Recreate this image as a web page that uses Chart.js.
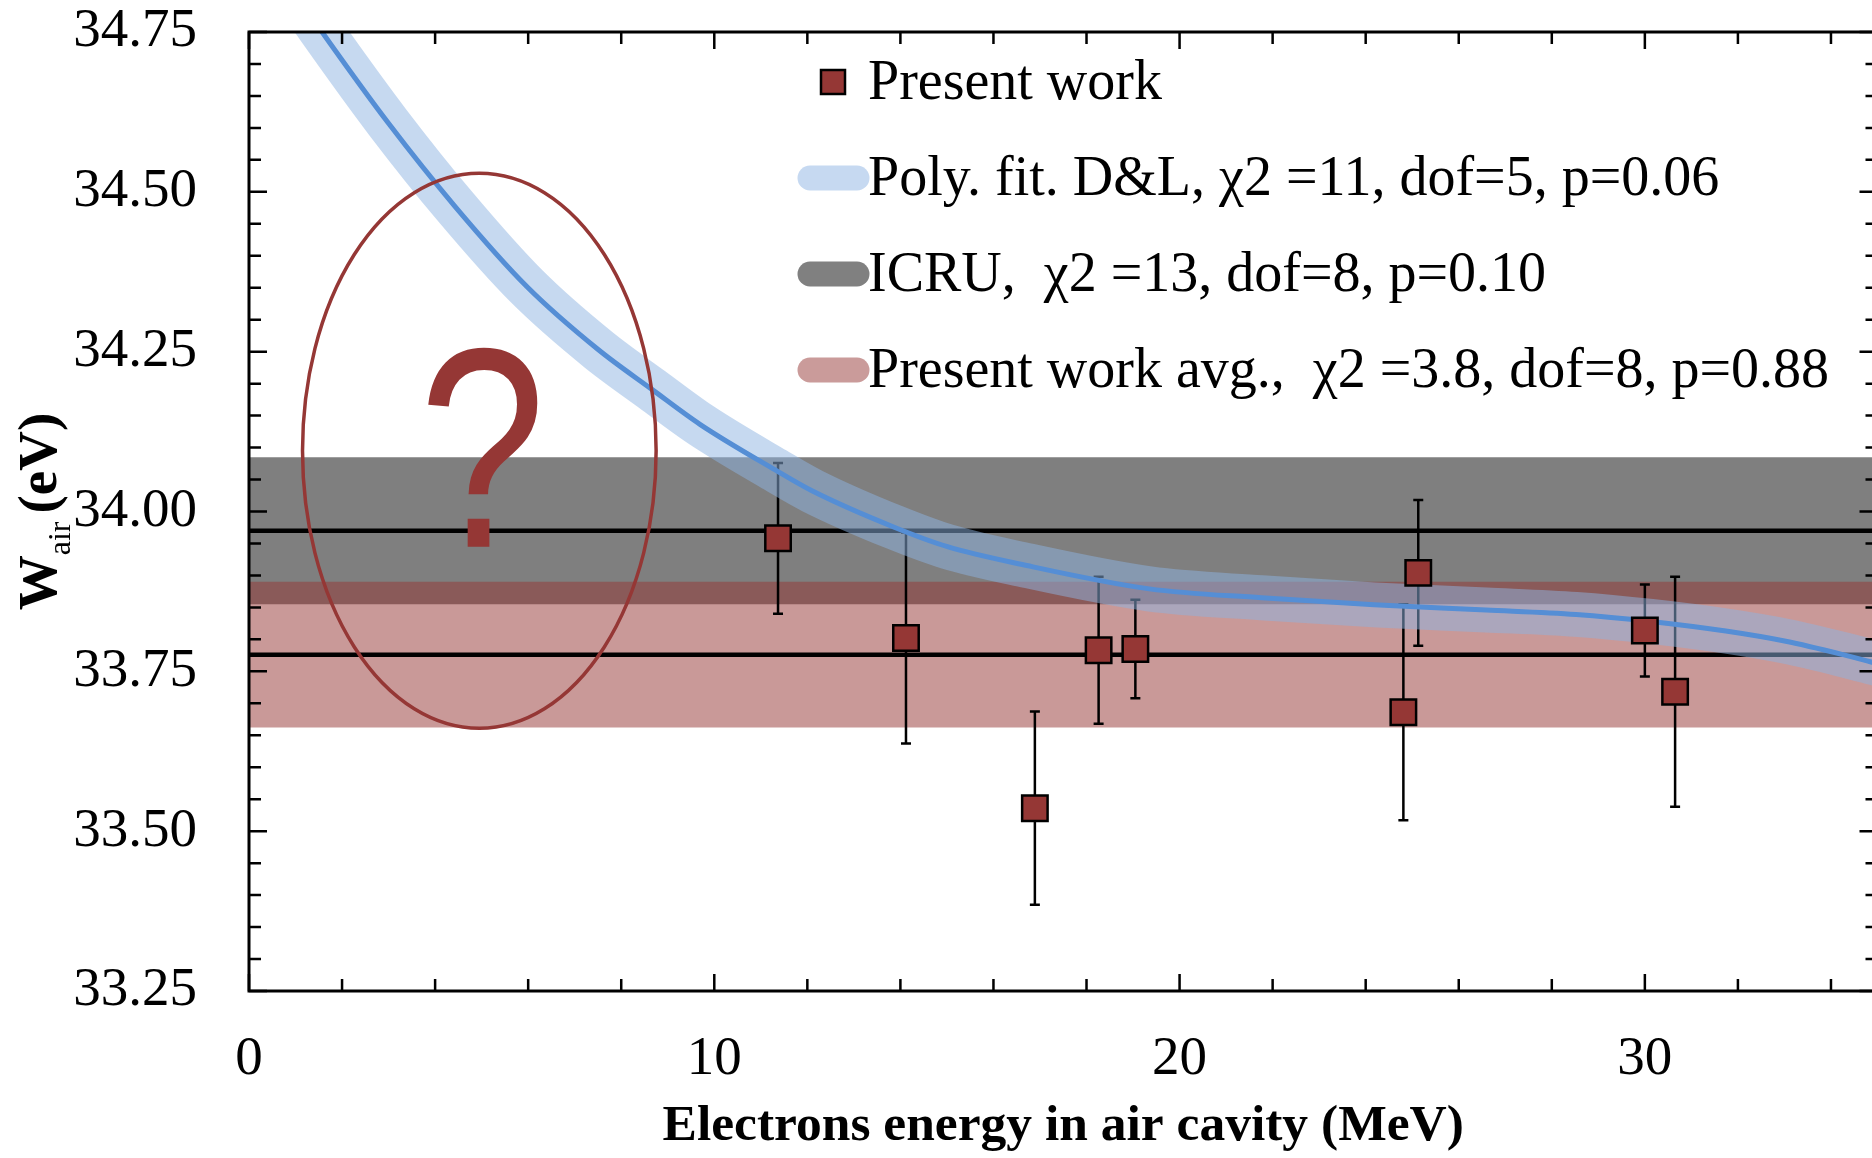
<!DOCTYPE html>
<html>
<head>
<meta charset="utf-8">
<script src="https://cdn.jsdelivr.net/npm/chart.js@4.4.1/dist/chart.umd.min.js"></script>
<style>
  html, body { margin: 0; padding: 0; overflow: hidden; background: #fff; }
</style>
</head>
<body>
<canvas id="wairChart" width="1898" height="1158"></canvas>
<script>
// Present work: electron energy (MeV), W_air (eV) and its uncertainty
const energy = [11.37, 14.12, 16.89, 18.26, 19.05, 24.81, 25.13, 30.00, 30.65];
const wair   = [33.958, 33.802, 33.536, 33.783, 33.785, 33.686, 33.904, 33.814, 33.718];
const wErr   = [0.118, 0.165, 0.151, 0.115, 0.077, 0.169, 0.114, 0.072, 0.180];

// Poly. fit D&L
const fitEnergy = [1.0, 1.57, 2.99, 4.43, 5.97, 7.51, 8.66, 9.70, 11.31, 12.11, 13.88, 15.01,
                   16.62, 19.35, 21.76, 24.18, 26.59, 28.52, 30.13, 31.74, 33.03, 34.32, 35.0];
const fitW = [34.81, 34.75, 34.608, 34.477, 34.352, 34.253, 34.191, 34.136, 34.065, 34.032, 33.975, 33.945,
              33.917, 33.879, 33.865, 33.854, 33.846, 33.839, 33.828, 33.813, 33.797, 33.775, 33.762];

// reference values (mean, half width of band)
const icruMean = 33.97, icruErr = 0.115;
const avgMean = 33.776, avgErr = 0.114;

const xRange = [0, 35];
const yRange = [33.25, 34.75];

const legendLabels = [
  "Present work",
  "Poly. fit. D&L, \u03c72 =11, dof=5, p=0.06",
  "ICRU,  \u03c72 =13, dof=8, p=0.10",
  "Present work avg.,  \u03c72 =3.8, dof=8, p=0.88"
];

const RED = "#953735";
const SERIF = '"Liberation Serif", "DejaVu Serif", serif';

function flat(v) {
  return [{ x: xRange[0], y: v }, { x: xRange[1], y: v }];
}

// error bars, drawn right after the avg mean line (below the fit band)
const errorBars = {
  id: "errorBars",
  afterDatasetDraw(chart, args) {
    if (args.index !== 3) return;
    const { ctx, scales: { x, y } } = chart;
    ctx.save();
    ctx.strokeStyle = "#000";
    ctx.lineWidth = 2.5;
    energy.forEach((e, i) => {
      const px = x.getPixelForValue(e);
      const top = y.getPixelForValue(wair[i] + wErr[i]);
      const bot = y.getPixelForValue(wair[i] - wErr[i]);
      ctx.beginPath();
      ctx.moveTo(px, top); ctx.lineTo(px, bot);
      ctx.moveTo(px - 5, top); ctx.lineTo(px + 5, top);
      ctx.moveTo(px - 5, bot); ctx.lineTo(px + 5, bot);
      ctx.stroke();
    });
    ctx.restore();
  }
};

// frame, inward ticks, annotation, legend, y title
const decorations = {
  id: "decorations",
  afterDatasetsDraw(chart) {
    const { ctx, chartArea: a, scales: { x, y } } = chart;
    ctx.save();

    // ellipse + question mark
    const cx = x.getPixelForValue(4.95), cy = y.getPixelForValue(34.095);
    const rx = x.getPixelForValue(4.95 + 3.8) - cx;
    const ry = cy - y.getPixelForValue(34.095 + 0.434);
    ctx.strokeStyle = RED;
    ctx.lineWidth = 3.5;
    ctx.beginPath();
    ctx.ellipse(cx, cy, rx, ry, 0, 0, Math.PI * 2);
    ctx.stroke();
    ctx.save();
    ctx.translate(cx + 3, cy + 96);
    ctx.scale(0.8, 1);
    ctx.fillStyle = RED;
    ctx.font = '285px "Liberation Sans", Arial, sans-serif';
    ctx.textAlign = "center";
    ctx.textBaseline = "alphabetic";
    ctx.fillText("?", 0, 0);
    ctx.restore();

    // frame
    ctx.strokeStyle = "#000";
    ctx.lineWidth = 3;
    ctx.strokeRect(a.left, a.top, a.right - a.left, a.bottom - a.top);

    // inward ticks
    ctx.lineWidth = 2.5;
    ctx.beginPath();
    x.ticks.forEach(t => {
      const px = x.getPixelForValue(t.value);
      const len = t.value % 10 === 0 ? 17 : 12;
      ctx.moveTo(px, a.bottom); ctx.lineTo(px, a.bottom - len);
      ctx.moveTo(px, a.top); ctx.lineTo(px, a.top + len);
    });
    y.ticks.forEach(t => {
      const py = y.getPixelForValue(t.value);
      const major = Math.abs(t.value * 4 - Math.round(t.value * 4)) < 1e-6;
      const len = major ? 18 : 12;
      ctx.moveTo(a.left, py); ctx.lineTo(a.left + len, py);
      ctx.moveTo(a.right, py); ctx.lineTo(a.right - len, py);
    });
    ctx.stroke();

    // legend
    const lx = 868, ly0 = 82, step = 96;
    ctx.font = '56px ' + SERIF;
    ctx.textAlign = "left";
    ctx.textBaseline = "middle";
    const swatch = ["#c6d9f1", "#808080", "#ca9b9a"];
    legendLabels.forEach((label, i) => {
      const ly = ly0 + i * step;
      if (i === 0) {
        ctx.fillStyle = RED;
        ctx.fillRect(833 - 12, ly - 12, 24, 24);
        ctx.lineWidth = 2.5;
        ctx.strokeStyle = "#000";
        ctx.strokeRect(833 - 12, ly - 12, 24, 24);
      } else {
        ctx.strokeStyle = swatch[i - 1];
        ctx.lineWidth = 25;
        ctx.lineCap = "round";
        ctx.beginPath();
        ctx.moveTo(810, ly); ctx.lineTo(857, ly);
        ctx.stroke();
        ctx.lineCap = "butt";
      }
      ctx.fillStyle = "#000";
      ctx.fillText(label, lx, ly + 2);
    });

    ctx.restore();
  },
  afterDraw(chart) {
    const { ctx, chartArea: a } = chart;
    ctx.save();
    ctx.translate(56, (a.top + a.bottom) / 2);
    ctx.rotate(-Math.PI / 2);
    ctx.fillStyle = "#000";
    ctx.textBaseline = "alphabetic";
    ctx.textAlign = "left";
    const big = 'bold 55px ' + SERIF, small = '32px ' + SERIF;
    const gap = 8;
    ctx.font = big; const w1 = ctx.measureText("W").width;
    ctx.font = small; const w2 = ctx.measureText("air").width;
    ctx.font = big; const w3 = ctx.measureText("(eV)").width;
    let sx = -(w1 + w2 + gap + w3) / 2;
    ctx.font = big; ctx.fillText("W", sx, 0); sx += w1;
    ctx.font = small; ctx.fillText("air", sx, 14); sx += w2 + gap;
    ctx.font = big; ctx.fillText("(eV)", sx, 0);
    ctx.restore();
  }
};

new Chart(document.getElementById("wairChart"), {
  type: "scatter",
  data: {
    datasets: [
      {
        label: legendLabels[0],
        data: energy.map((e, i) => ({ x: e, y: wair[i] })),
        pointStyle: "rect",
        pointRadius: 18,
        pointBackgroundColor: RED,
        pointBorderColor: "#000",
        pointBorderWidth: 2.5,
        showLine: false,
        order: 0
      },
      {
        label: "fit line",
        data: fitEnergy.map((e, i) => ({ x: e, y: fitW[i] })),
        showLine: true,
        borderColor: "#558ed5",
        borderWidth: 5,
        pointRadius: 0,
        cubicInterpolationMode: "monotone",
        clip: 0,
        order: 1
      },
      {
        label: legendLabels[1],
        data: fitEnergy.map((e, i) => ({ x: e, y: fitW[i] })),
        showLine: true,
        borderColor: "rgba(141,179,226,0.5)",
        borderWidth: 45,
        pointRadius: 0,
        cubicInterpolationMode: "monotone",
        clip: 0,
        order: 2
      },
      {
        label: "avg mean",
        data: flat(avgMean),
        showLine: true,
        borderColor: "#000",
        borderWidth: 4.5,
        pointRadius: 0,
        clip: 0,
        order: 3
      },
      {
        label: "ICRU mean",
        data: flat(icruMean),
        showLine: true,
        borderColor: "#000",
        borderWidth: 4.5,
        pointRadius: 0,
        clip: 0,
        order: 4
      },
      {
        label: legendLabels[3],
        data: flat(avgMean + avgErr),
        showLine: true,
        borderWidth: 0,
        pointRadius: 0,
        fill: { value: avgMean - avgErr },
        backgroundColor: "rgba(149,55,53,0.51)",
        clip: 0,
        order: 5
      },
      {
        label: legendLabels[2],
        data: flat(icruMean + icruErr),
        showLine: true,
        borderWidth: 0,
        pointRadius: 0,
        fill: { value: icruMean - icruErr },
        backgroundColor: "#7f7f7f",
        clip: 0,
        order: 6
      }
    ]
  },
  options: {
    responsive: false,
    animation: false,
    layout: { padding: { top: 32, right: 5, left: 0, bottom: 0 } },
    plugins: {
      legend: { display: false },
      tooltip: { enabled: false }
    },
    scales: {
      x: {
        type: "linear",
        min: xRange[0],
        max: xRange[1],
        grid: { display: false, drawTicks: false },
        border: { display: false },
        ticks: {
          stepSize: 2,
          includeBounds: false,
          autoSkip: false,
          maxRotation: 0,
          padding: 36,
          color: "#000",
          font: { family: SERIF, size: 55 },
          callback: v => (v % 10 === 0 ? String(v) : "")
        },
        title: {
          display: true,
          text: "Electrons energy in air cavity (MeV)",
          color: "#000",
          font: { family: SERIF, size: 51.5, weight: "bold" },
          padding: { top: 0, bottom: 0 }
        },
        afterFit: s => { s.height = 167; s.paddingLeft = 0; s.paddingRight = 0; }
      },
      y: {
        type: "linear",
        min: yRange[0],
        max: yRange[1],
        grid: { display: false, drawTicks: false },
        border: { display: false },
        ticks: {
          stepSize: 0.05,
          autoSkip: false,
          padding: 52,
          color: "#000",
          font: { family: SERIF, size: 55 },
          callback: v => (Math.abs(v * 4 - Math.round(v * 4)) < 1e-6 ? v.toFixed(2) : "")
        },
        afterFit: s => { s.width = 249; s.paddingTop = 0; s.paddingBottom = 0; }
      }
    }
  },
  plugins: [errorBars, decorations]
});
</script>
</body>
</html>
